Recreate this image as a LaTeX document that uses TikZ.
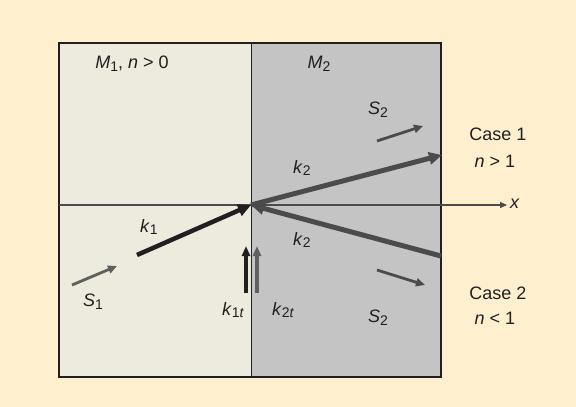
\documentclass[tikz,border=0pt]{standalone}
\usepackage{fontspec}
\setmainfont{Liberation Sans}
\usetikzlibrary{arrows.meta}
\definecolor{bgpeach}{RGB}{254,239,207}
\definecolor{leftfill}{RGB}{237,235,221}
\definecolor{rightfill}{RGB}{196,196,196}
\definecolor{ink}{RGB}{35,31,32}
\definecolor{darkg}{RGB}{75,75,75}
\definecolor{midg}{RGB}{95,95,95}
\newcommand{\vi}[1]{\textit{#1}}
\newcommand{\sbs}[1]{\raisebox{-0.3ex}{\fontsize{14}{16}\selectfont #1}}
\tikzset{
  lbl/.style={text=ink, font=\fontsize{18}{21}\selectfont, inner sep=0pt},
  bigarrow/.style={line width=5pt, -{Triangle[length=13pt,width=12pt]}},
  smallarrow/.style={line width=2.8pt, -{Triangle[length=9pt,width=8pt]}},
  vertarrow/.style={line width=3.3pt, -{Triangle[length=10pt,width=8pt]}},
}
\begin{document}
\begin{tikzpicture}[x=1pt,y=-1pt]
\useasboundingbox (0,0) rectangle (576,407);
\fill[bgpeach] (0,0) rectangle (576,407);
\fill[leftfill] (59,43) rectangle (251,377);
\fill[rightfill] (251,43) rectangle (441,377);
\draw[ink, line width=0.6pt] (251,43) -- (251,377);
\draw[ink, line width=2pt] (59,43) rectangle (441,377);
% axis
\coordinate (ax0) at (59,205);
\coordinate (ax1) at (507,205);
\coordinate (O) at (251,205);
\draw[darkg, line width=1.3pt, -{Triangle[length=7pt,width=6pt]}] (ax0) -- (ax1);
\node[lbl, anchor=west] (xl) at (510,204) {\vi{x}};
% k1
\coordinate (k1s) at (137,255);
\draw[ink, bigarrow, line width=4.5pt] (k1s) -- (O);
% k2 upper
\coordinate (k2u) at (442,155);
\draw[darkg, bigarrow] (O) -- (k2u);
% k2 lower
\coordinate (k2l) at (441,256);
\draw[darkg, bigarrow] (k2l) -- (O);
% S arrows
\coordinate (s1a) at (72,285); \coordinate (s1b) at (117,266);
\draw[midg, smallarrow] (s1a) -- (s1b);
\coordinate (s2a) at (377,141); \coordinate (s2b) at (423,126);
\draw[darkg, smallarrow] (s2a) -- (s2b);
\coordinate (s3a) at (377,270); \coordinate (s3b) at (425,285);
\draw[darkg, smallarrow] (s3a) -- (s3b);
% kt arrows
\coordinate (k1ta) at (246,293); \coordinate (k1tb) at (246,246);
\draw[ink, vertarrow] (k1ta) -- (k1tb);
\coordinate (k2ta) at (257,293); \coordinate (k2tb) at (257,246);
\draw[midg, vertarrow] (k2ta) -- (k2tb);
% labels
\node[lbl] (m1) at (132,64) {\vi{M}\sbs{1}, \vi{n} > 0};
\node[lbl] (m2) at (319,64) {\vi{M}\sbs{2}};
\node[lbl] (s2u) at (378,110) {\vi{S}\sbs{2}};
\node[lbl] (k2ul) at (302,168) {\vi{k}\sbs{2}};
\node[lbl] (k2ll) at (302,240) {\vi{k}\sbs{2}};
\node[lbl] (k1l) at (149,227) {\vi{k}\sbs{1}};
\node[lbl] (s1l) at (93,302) {\vi{S}\sbs{1}};
\node[lbl] (k1tl) at (233,310) {\vi{k}\sbs{1\vi{t}}};
\node[lbl] (k2tl) at (283,310) {\vi{k}\sbs{2\vi{t}}};
\node[lbl] (s2l) at (378,318) {\vi{S}\sbs{2}};
\node[lbl] (c1) at (498,134) {Case 1};
\node[lbl] (n1) at (495,161) {\vi{n} > 1};
\node[lbl] (c2) at (498,293) {Case 2};
\node[lbl] (n2) at (495,318) {\vi{n} < 1};
\end{tikzpicture}
\end{document}
